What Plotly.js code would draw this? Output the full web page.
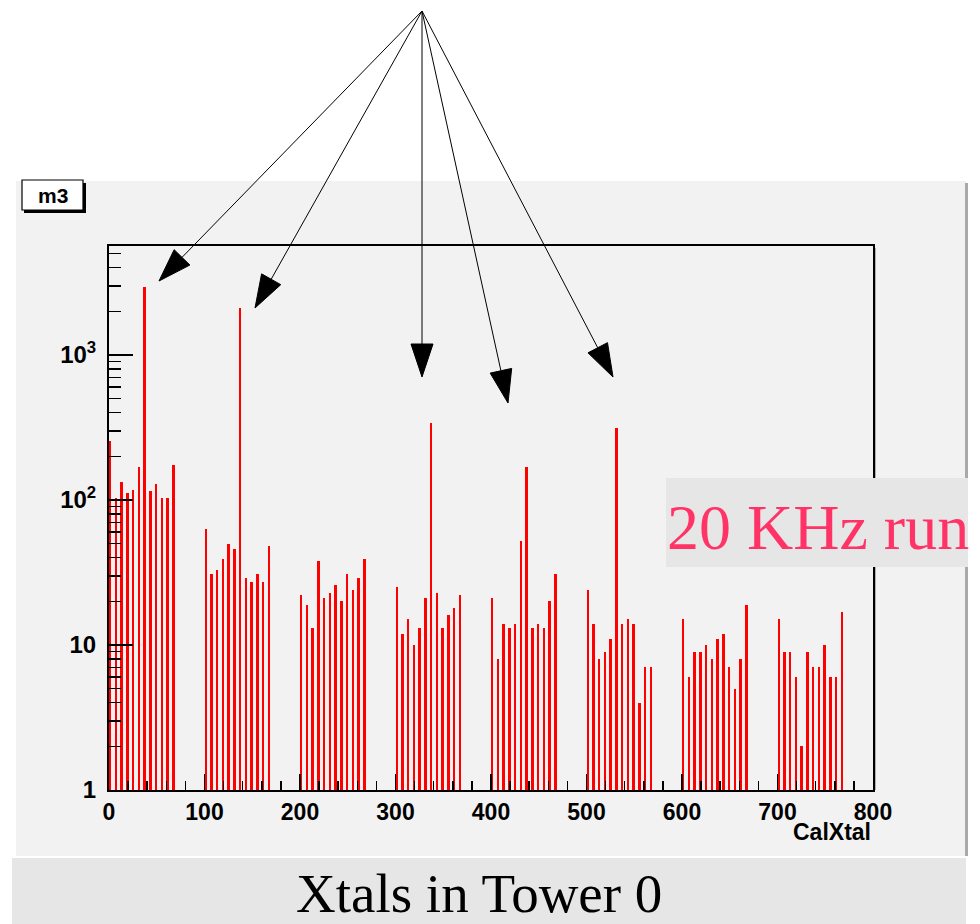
<!DOCTYPE html>
<html>
<head>
<meta charset="utf-8">
<script src="https://cdn.plot.ly/plotly-3.0.1.min.js"></script>
<style>
  html, body { margin: 0; padding: 0; background: #ffffff; }
  #chart { width: 980px; height: 924px; }
</style>
</head>
<body>
<div id="chart"></div>
<script>
// CalXtal identifiers: layer * 100 + 6 * column (8 layers x 12 columns)
const layer0Ids = [0, 6, 12, 18, 24, 30, 36, 42, 48, 54, 60, 66];
const layer1Ids = [100, 106, 112, 118, 124, 130, 136, 142, 148, 154, 160, 166];
const layer2Ids = [200, 206, 212, 218, 224, 230, 236, 242, 248, 254, 260, 266];
const layer3Ids = [300, 306, 312, 318, 324, 330, 336, 342, 348, 354, 360, 366];
const layer4Ids = [400, 406, 412, 418, 424, 430, 436, 442, 448, 454, 460, 466];
const layer5Ids = [500, 506, 512, 518, 524, 530, 536, 542, 548, 554, 560, 566];
const layer6Ids = [600, 606, 612, 618, 624, 630, 636, 642, 648, 654, 660, 666];
const layer7Ids = [700, 706, 712, 718, 724, 730, 736, 742, 748, 754, 760, 766];

// Entries per crystal
const layer0Counts = [256, 103, 134, 112, 117, 168, 2950, 115, 128, 103, 103, 173];
const layer1Counts = [63, 31, 33, 39, 50, 46, 2110, 29, 27, 31, 27, 48];
const layer2Counts = [22, 19, 13, 38, 21, 23, 26, 20, 31, 24, 29, 39];
const layer3Counts = [25, 12, 15, 10, 13, 21, 342, 23, 13, 16, 18, 22];
const layer4Counts = [21, 8, 14, 13, 14, 52, 168, 13, 14, 13, 20, 31];
const layer5Counts = [24, 14, 8, 9, 11, 315, 14, 15, 14, 4, 7, 7];
const layer6Counts = [15, 6, 9, 9, 10, 8, 11, 12, 7, 5, 8, 19];
const layer7Counts = [15, 9, 9, 6, 2, 9, 7, 7, 10, 6, 6, 17];

// Axis ticks
const xMajorStep = 100;
const xMinorStep = 20;
const yMajorVals = [1, 10, 100, 1000];
const yMajorText = ['1', '10', '10<sup>2</sup>', '10<sup>3</sup>'];
const yMinorVals = [2, 3, 4, 5, 6, 7, 8, 9,
                    20, 30, 40, 50, 60, 70, 80, 90,
                    200, 300, 400, 500, 600, 700, 800, 900,
                    2000, 3000, 4000, 5000];

const xtalIds = [].concat(layer0Ids, layer1Ids, layer2Ids, layer3Ids,
                          layer4Ids, layer5Ids, layer6Ids, layer7Ids);
const xtalCounts = [].concat(layer0Counts, layer1Counts, layer2Counts, layer3Counts,
                             layer4Counts, layer5Counts, layer6Counts, layer7Counts);

// Page geometry (pixels)
const W = 980, H = 924;
const M = { l: 109, r: 107, t: 246, b: 134 };
const plotW = W - M.l - M.r;
const plotH = H - M.t - M.b;
const pxPerDecade = 145;

// pixel -> paper coordinates
const px = x => (x - M.l) / plotW;
const py = y => (H - M.b - y) / plotH;

const shapes = [];
const annotations = [];

// canvas pad with its shadow, and the caption band
shapes.push({ type: 'rect', xref: 'paper', yref: 'paper', layer: 'below',
  x0: px(16), x1: px(966), y0: py(856), y1: py(181),
  fillcolor: '#f2f2f2', line: { width: 0 } });
shapes.push({ type: 'rect', xref: 'paper', yref: 'paper', layer: 'below',
  x0: px(965), x1: px(968), y0: py(856), y1: py(183),
  fillcolor: '#a9a9a9', line: { width: 0 } });
shapes.push({ type: 'rect', xref: 'paper', yref: 'paper', layer: 'below',
  x0: px(12), x1: px(966), y0: py(924), y1: py(858),
  fillcolor: '#e6e6e6', line: { width: 0 } });
// faint shadow along the frame's right edge
shapes.push({ type: 'line', xref: 'paper', yref: 'paper', layer: 'below',
  x0: px(875), x1: px(875), y0: py(790), y1: py(248),
  line: { color: '#9a9a9a', width: 1.5 } });

// histogram name box
shapes.push({ type: 'rect', xref: 'paper', yref: 'paper', layer: 'above',
  x0: px(24), x1: px(86), y0: py(213), y1: py(183),
  fillcolor: '#000000', line: { width: 0 } });
shapes.push({ type: 'rect', xref: 'paper', yref: 'paper', layer: 'above',
  x0: px(22), x1: px(83), y0: py(210), y1: py(180),
  fillcolor: '#ffffff', line: { color: '#000000', width: 1.2 } });
annotations.push({ xref: 'paper', yref: 'paper', x: px(52.5), y: py(195),
  text: 'm3', showarrow: false, xanchor: 'center', yanchor: 'middle',
  font: { family: 'Liberation Sans, Arial, sans-serif', size: 21, color: '#000', weight: 'bold' } });

// run label box
shapes.push({ type: 'rect', xref: 'paper', yref: 'paper', layer: 'above',
  x0: px(666), x1: px(968), y0: py(567), y1: py(478),
  fillcolor: '#e6e6e6', line: { width: 0 } });
annotations.push({ xref: 'paper', yref: 'paper', x: px(665), y: py(527),
  text: '20 KHz run', showarrow: false, xanchor: 'left', yanchor: 'middle',
  font: { family: 'Liberation Serif, Times New Roman, serif', size: 64, color: '#ff3366' } });

// caption
annotations.push({ xref: 'paper', yref: 'paper', x: px(479), y: py(893),
  text: 'Xtals in Tower 0', showarrow: false, xanchor: 'center', yanchor: 'middle',
  height: 60, valign: 'middle',
  font: { family: 'Liberation Serif, Times New Roman, serif', size: 55, color: '#000' } });

// x axis title, right aligned to the frame
annotations.push({ xref: 'paper', yref: 'paper', x: 1, y: py(832),
  text: 'CalXtal', showarrow: false, xanchor: 'right', yanchor: 'middle',
  font: { family: 'Liberation Sans, Arial, sans-serif', size: 23, color: '#000', weight: 'bold' } });

// pointer arrows from a common origin to the hot crystals
const arrowOrigin = [422, 11];
const arrowTips = [[159, 281], [255, 308], [422, 377], [508, 403], [613, 377]];
const headLen = 33, headHalf = 11;
arrowTips.forEach(([tx, ty]) => {
  const dx = tx - arrowOrigin[0], dy = ty - arrowOrigin[1];
  const len = Math.hypot(dx, dy);
  const ux = dx / len, uy = dy / len;
  const bx = tx - ux * headLen, by = ty - uy * headLen;
  const nx = -uy, ny = ux;
  shapes.push({ type: 'line', xref: 'paper', yref: 'paper', layer: 'above',
    x0: px(arrowOrigin[0]), y0: py(arrowOrigin[1]), x1: px(bx), y1: py(by),
    line: { color: '#000000', width: 1 } });
  const p1 = [tx, ty], p2 = [bx + nx * headHalf, by + ny * headHalf], p3 = [bx - nx * headHalf, by - ny * headHalf];
  const path = 'M ' + px(p1[0]) + ' ' + py(p1[1]) +
               ' L ' + px(p2[0]) + ' ' + py(p2[1]) +
               ' L ' + px(p3[0]) + ' ' + py(p3[1]) + ' Z';
  shapes.push({ type: 'path', xref: 'paper', yref: 'paper', layer: 'above',
    path: path, fillcolor: '#000000', line: { color: '#000000', width: 1 } });
});

const trace = {
  type: 'bar',
  x: xtalIds,
  y: xtalCounts,
  width: 2.6,
  offset: 0,
  marker: { color: '#ff0000', line: { width: 0 } },
  hoverinfo: 'skip'
};

const tickFont = { family: 'Liberation Sans, Arial, sans-serif', size: 23, color: '#000', weight: 'bold' };

const layout = {
  width: W, height: H,
  margin: M,
  paper_bgcolor: '#ffffff',
  plot_bgcolor: '#f2f2f2',
  showlegend: false,
  bargap: 0,
  xaxis: {
    range: [0, 800], tickmode: 'linear', tick0: 0, dtick: xMajorStep,
    ticks: 'inside', ticklen: 16, tickwidth: 1.5, tickcolor: '#000',
    minor: { dtick: xMinorStep, tick0: 0, ticks: 'inside', ticklen: 9, tickwidth: 1.5, tickcolor: '#000' },
    showline: true, linecolor: '#000', linewidth: 2, mirror: true,
    showgrid: false, zeroline: false, tickfont: tickFont, ticklabelstandoff: 0
  },
  yaxis: {
    type: 'log', range: [0, plotH / pxPerDecade],
    tickmode: 'array', tickvals: yMajorVals, ticktext: yMajorText,
    ticks: 'inside', ticklen: 24, tickwidth: 1.5, tickcolor: '#000',
    minor: { tickmode: 'array', tickvals: yMinorVals, ticks: 'inside', ticklen: 12, tickwidth: 1.5, tickcolor: '#000' },
    showline: true, linecolor: '#000', linewidth: 2, mirror: true,
    showgrid: false, zeroline: false,
    tickfont: { family: 'Liberation Sans, Arial, sans-serif', size: 24, color: '#000', weight: 'bold' },
    ticklabelstandoff: 6
  },
  shapes: shapes,
  annotations: annotations
};

Plotly.newPlot('chart', [trace], layout, { staticPlot: true, displayModeBar: false });
</script>
</body>
</html>
